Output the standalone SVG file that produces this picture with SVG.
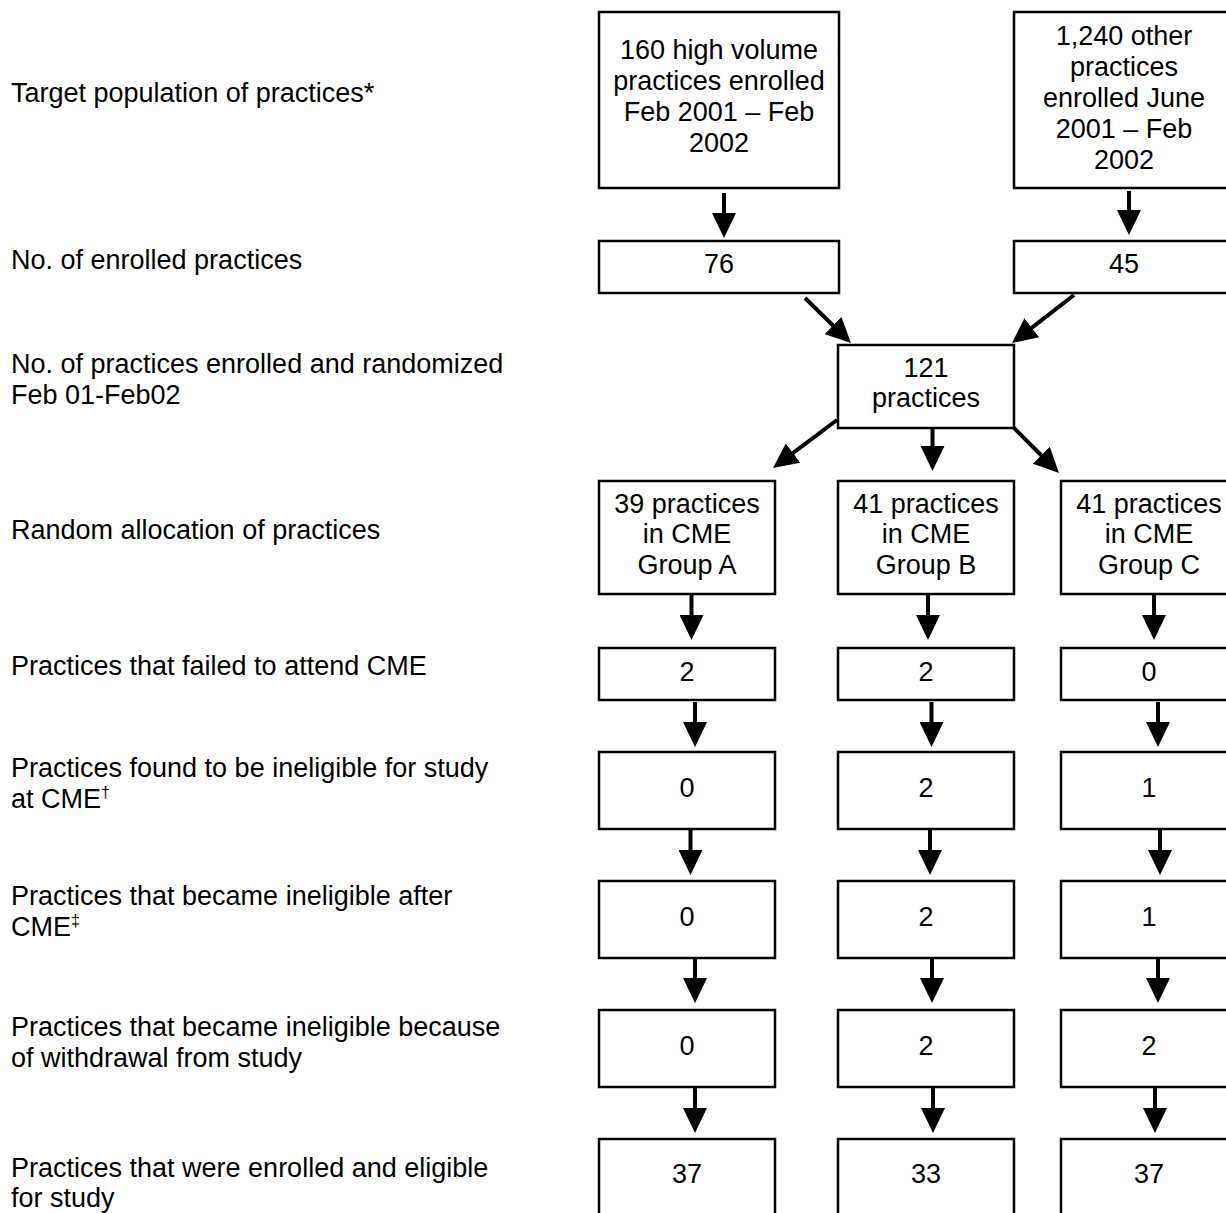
<svg xmlns="http://www.w3.org/2000/svg" width="1226" height="1213" viewBox="0 0 1226 1213">
<style>
text{font-family:"Liberation Sans",Arial,Helvetica,sans-serif;font-size:27px;fill:#000}
.c{text-anchor:middle}
.box{fill:#fff;stroke:#000;stroke-width:2.5}
.arr{stroke:#000;stroke-width:4;fill:none;marker-end:url(#ah)}
.sup{font-size:16px}
</style>
<defs>
<marker id="ah" viewBox="0 0 25 24" refX="1" refY="12" markerWidth="25" markerHeight="24" markerUnits="userSpaceOnUse" orient="auto">
<path d="M0,0 L25,12 L0,24 z" fill="#000"/>
</marker>
</defs>
<rect width="1226" height="1213" fill="#fff"/>

<g id="labels">
<text x="11" y="102">Target population of practices*</text>
<text x="11" y="269">No. of enrolled practices</text>
<text x="11" y="373">No. of practices enrolled and randomized</text>
<text x="11" y="404">Feb 01-Feb02</text>
<text x="11" y="539">Random allocation of practices</text>
<text x="11" y="675">Practices that failed to attend CME</text>
<text x="11" y="777">Practices found to be ineligible for study</text>
<text x="11" y="808">at CME<tspan class="sup" dy="-10">†</tspan></text>
<text x="11" y="905">Practices that became ineligible after</text>
<text x="11" y="936">CME<tspan class="sup" dy="-10">‡</tspan></text>
<text x="11" y="1036">Practices that became ineligible because</text>
<text x="11" y="1067">of withdrawal from study</text>
<text x="11" y="1177">Practices that were enrolled and eligible</text>
<text x="11" y="1207">for study</text>
</g>

<g id="connectors">
<line class="arr" x1="724" y1="193" x2="724" y2="214"/>
<line class="arr" x1="1129" y1="191" x2="1129" y2="211"/>
<line class="arr" x1="805" y1="298" x2="833.8" y2="326.2"/>
<line class="arr" x1="1074" y1="295" x2="1031" y2="328.3"/>
<line class="arr" x1="837" y1="420" x2="792.2" y2="453.6"/>
<line class="arr" x1="932.5" y1="429" x2="932.5" y2="447"/>
<line class="arr" x1="1014" y1="428" x2="1042" y2="456"/>
<line class="arr" x1="691.5" y1="595" x2="691.5" y2="616"/>
<line class="arr" x1="928" y1="595" x2="928" y2="616"/>
<line class="arr" x1="1154" y1="595" x2="1154" y2="616"/>
<line class="arr" x1="695" y1="702" x2="695" y2="723"/>
<line class="arr" x1="931.5" y1="702" x2="931.5" y2="723"/>
<line class="arr" x1="1158" y1="702" x2="1158" y2="723"/>
<line class="arr" x1="690.5" y1="830" x2="690.5" y2="851"/>
<line class="arr" x1="930" y1="830" x2="930" y2="851"/>
<line class="arr" x1="1160" y1="830" x2="1160" y2="851"/>
<line class="arr" x1="695" y1="959" x2="695" y2="979"/>
<line class="arr" x1="932" y1="959" x2="932" y2="979"/>
<line class="arr" x1="1158" y1="959" x2="1158" y2="979"/>
<line class="arr" x1="695" y1="1088" x2="695" y2="1109"/>
<line class="arr" x1="933" y1="1088" x2="933" y2="1109"/>
<line class="arr" x1="1155" y1="1088" x2="1155" y2="1109"/>
</g>

<g id="n-high">
<rect class="box" x="599" y="12" width="240" height="176"/>
<text class="c" x="719" y="59">160 high volume</text>
<text class="c" x="719" y="90">practices enrolled</text>
<text class="c" x="719" y="121">Feb 2001 – Feb</text>
<text class="c" x="719" y="152">2002</text>
</g>
<g id="n-other">
<rect class="box" x="1014" y="12" width="230" height="176"/>
<text class="c" x="1124" y="45">1,240 other</text>
<text class="c" x="1124" y="76">practices</text>
<text class="c" x="1124" y="107">enrolled June</text>
<text class="c" x="1124" y="138">2001 – Feb</text>
<text class="c" x="1124" y="169">2002</text>
</g>
<g id="n-76">
<rect class="box" x="599" y="241" width="240" height="52"/>
<text class="c" x="719" y="273">76</text>
</g>
<g id="n-45">
<rect class="box" x="1014" y="241" width="230" height="52"/>
<text class="c" x="1124" y="273">45</text>
</g>
<g id="n-121">
<rect class="box" x="838" y="345" width="176" height="83"/>
<text class="c" x="926" y="377">121</text>
<text class="c" x="926" y="407">practices</text>
</g>
<g id="n-groupA">
<rect class="box" x="599" y="481" width="176" height="113"/>
<text class="c" x="687" y="513">39 practices</text>
<text class="c" x="687" y="543">in CME</text>
<text class="c" x="687" y="574">Group A</text>
</g>
<g id="n-groupB">
<rect class="box" x="838" y="481" width="176" height="113"/>
<text class="c" x="926" y="513">41 practices</text>
<text class="c" x="926" y="543">in CME</text>
<text class="c" x="926" y="574">Group B</text>
</g>
<g id="n-groupC">
<rect class="box" x="1061" y="481" width="176" height="113"/>
<text class="c" x="1149" y="513">41 practices</text>
<text class="c" x="1149" y="543">in CME</text>
<text class="c" x="1149" y="574">Group C</text>
</g>

<g id="n-failA"><rect class="box" x="599" y="648" width="176" height="52"/><text class="c" x="687" y="681">2</text></g>
<g id="n-failB"><rect class="box" x="838" y="648" width="176" height="52"/><text class="c" x="926" y="681">2</text></g>
<g id="n-failC"><rect class="box" x="1061" y="648" width="176" height="52"/><text class="c" x="1149" y="681">0</text></g>

<g id="n-inelA"><rect class="box" x="599" y="752" width="176" height="77"/><text class="c" x="687" y="797">0</text></g>
<g id="n-inelB"><rect class="box" x="838" y="752" width="176" height="77"/><text class="c" x="926" y="797">2</text></g>
<g id="n-inelC"><rect class="box" x="1061" y="752" width="176" height="77"/><text class="c" x="1149" y="797">1</text></g>

<g id="n-afterA"><rect class="box" x="599" y="881" width="176" height="77"/><text class="c" x="687" y="926">0</text></g>
<g id="n-afterB"><rect class="box" x="838" y="881" width="176" height="77"/><text class="c" x="926" y="926">2</text></g>
<g id="n-afterC"><rect class="box" x="1061" y="881" width="176" height="77"/><text class="c" x="1149" y="926">1</text></g>

<g id="n-wdA"><rect class="box" x="599" y="1010" width="176" height="77"/><text class="c" x="687" y="1055">0</text></g>
<g id="n-wdB"><rect class="box" x="838" y="1010" width="176" height="77"/><text class="c" x="926" y="1055">2</text></g>
<g id="n-wdC"><rect class="box" x="1061" y="1010" width="176" height="77"/><text class="c" x="1149" y="1055">2</text></g>

<g id="n-finalA"><rect class="box" x="599" y="1139" width="176" height="77"/><text class="c" x="687" y="1183">37</text></g>
<g id="n-finalB"><rect class="box" x="838" y="1139" width="176" height="77"/><text class="c" x="926" y="1183">33</text></g>
<g id="n-finalC"><rect class="box" x="1061" y="1139" width="176" height="77"/><text class="c" x="1149" y="1183">37</text></g>
</svg>
